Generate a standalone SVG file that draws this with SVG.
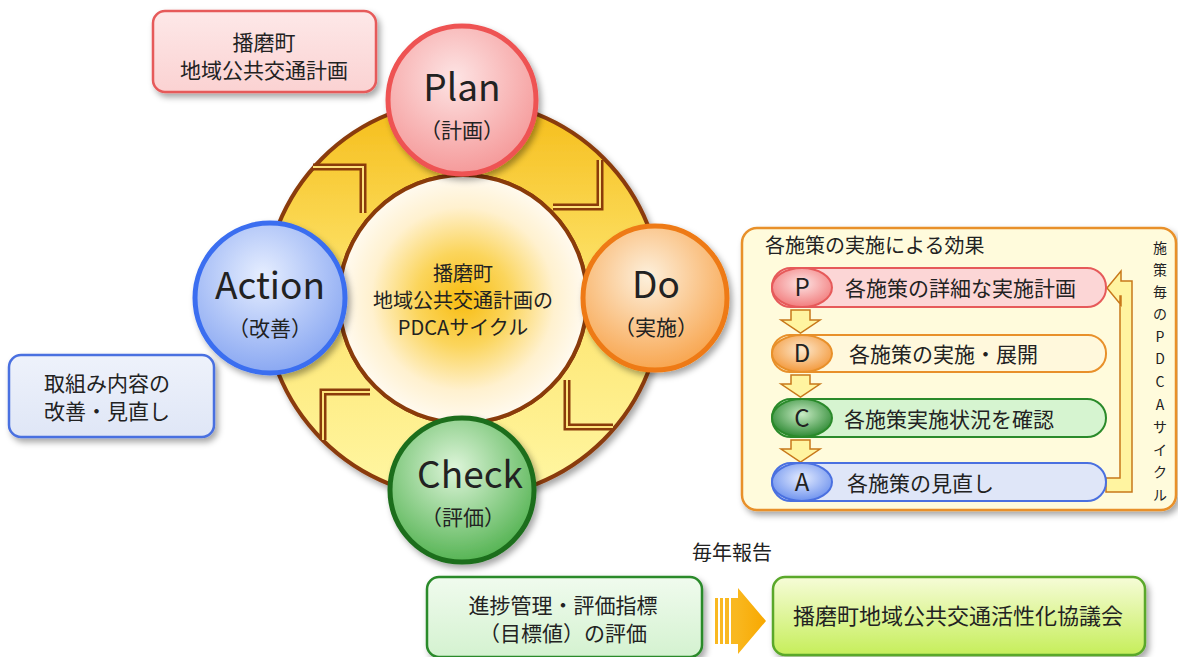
<svg xmlns="http://www.w3.org/2000/svg" width="1178" height="657" viewBox="0 0 1178 657">
<defs>
<style>
text{font-family:"Noto Sans CJK JP","Noto Sans",sans-serif;fill:#222}
.t21{font-size:21px}
.c{text-anchor:middle}
.big{font-size:37px}
.par{font-size:21px}
.sep1{fill:none;stroke:#8a3b0a;stroke-width:7;stroke-linejoin:miter}
.sep2{fill:none;stroke:#fce27a;stroke-width:2}
.vt{font-size:14px;text-anchor:middle}
.darr{fill:#fff4a0;stroke:#c8781a;stroke-width:1.5}
</style>
<filter id="sh" x="-20%" y="-20%" width="150%" height="150%"><feDropShadow dx="3" dy="4" stdDeviation="3" flood-color="#000" flood-opacity="0.35"/></filter>
<linearGradient id="ringG" x1="0" y1="100" x2="0" y2="498" gradientUnits="userSpaceOnUse">
<stop offset="0" stop-color="#f5bc18"/><stop offset="0.45" stop-color="#fde36a"/><stop offset="1" stop-color="#fff7a4"/></linearGradient>
<radialGradient id="innerG" cx="0.5" cy="0.5" r="0.5">
<stop offset="0" stop-color="#f8bc10"/><stop offset="0.38" stop-color="#fbd55c"/><stop offset="0.74" stop-color="#fff1cf"/><stop offset="1" stop-color="#fffaf0"/></radialGradient>
<radialGradient id="pG" cx="0.45" cy="0.35" r="0.65"><stop offset="0" stop-color="#fde4e4"/><stop offset="1" stop-color="#f59a9a"/></radialGradient>
<radialGradient id="dG" cx="0.45" cy="0.35" r="0.65"><stop offset="0" stop-color="#fdf0dc"/><stop offset="1" stop-color="#f8a650"/></radialGradient>
<radialGradient id="cG" cx="0.45" cy="0.35" r="0.65"><stop offset="0" stop-color="#def5da"/><stop offset="1" stop-color="#56b454"/></radialGradient>
<radialGradient id="aG" cx="0.45" cy="0.35" r="0.65"><stop offset="0" stop-color="#e6eeff"/><stop offset="1" stop-color="#8aa8f2"/></radialGradient>
<linearGradient id="pinkBox" x1="0" y1="0" x2="0" y2="1"><stop offset="0" stop-color="#fde8e8"/><stop offset="1" stop-color="#fbd2d2"/></linearGradient>
<linearGradient id="blueBox" x1="0" y1="0" x2="0" y2="1"><stop offset="0" stop-color="#eef2fb"/><stop offset="1" stop-color="#dfe6f6"/></linearGradient>
<linearGradient id="greenBox" x1="0" y1="0" x2="0" y2="1"><stop offset="0" stop-color="#f0fbee"/><stop offset="1" stop-color="#d4f2d0"/></linearGradient>
<linearGradient id="limeBox" x1="0" y1="0" x2="0" y2="1"><stop offset="0" stop-color="#f6fcd8"/><stop offset="1" stop-color="#c6ee5a"/></linearGradient>
<linearGradient id="orArr" x1="0" y1="0" x2="1" y2="0"><stop offset="0" stop-color="#f9b820"/><stop offset="1" stop-color="#f8a800"/></linearGradient>
<radialGradient id="epG" cx="0.5" cy="0.4" r="0.6"><stop offset="0" stop-color="#fde4e4"/><stop offset="1" stop-color="#f27e7e"/></radialGradient>
<radialGradient id="edG" cx="0.5" cy="0.4" r="0.6"><stop offset="0" stop-color="#fde8cc"/><stop offset="1" stop-color="#f39a3e"/></radialGradient>
<radialGradient id="ecG" cx="0.5" cy="0.4" r="0.6"><stop offset="0" stop-color="#c8ebc4"/><stop offset="1" stop-color="#2e8a34"/></radialGradient>
<radialGradient id="eaG" cx="0.5" cy="0.4" r="0.6"><stop offset="0" stop-color="#e4ecff"/><stop offset="1" stop-color="#6f93ee"/></radialGradient>
</defs>

<rect width="1178" height="657" fill="#ffffff"/>

<g id="ring">
<path d="M264,299 a199,199 0 1,0 398,0 a199,199 0 1,0 -398,0 Z M339,299 a124,124 0 1,0 248,0 a124,124 0 1,0 -248,0 Z" fill="url(#ringG)" fill-rule="evenodd" stroke="#8a3b0a" stroke-width="4" filter="url(#sh)"/>
</g>
<g id="connectors">
<polyline class="sep1" points="313,167 363,167 363,213"/>
<polyline class="sep2" points="313,167 363,167 363,213"/>
<polyline class="sep1" points="600,160 600,207 553,207"/>
<polyline class="sep2" points="600,160 600,207 553,207"/>
<polyline class="sep1" points="567,380 567,427 613,427"/>
<polyline class="sep2" points="567,380 567,427 613,427"/>
<polyline class="sep1" points="323,440 323,392 370,392"/>
<polyline class="sep2" points="323,440 323,392 370,392"/>
<g id="report-arrow">
<rect x="715" y="598" width="3" height="46" fill="#f9b820"/>
<rect x="720" y="598" width="3" height="46" fill="#f9b820"/>
<rect x="725" y="598" width="4" height="46" fill="#f9b820"/>
<rect x="731" y="598" width="5" height="46" fill="#f9b820"/>
<path d="M736,598 L738,598 L738,588 L766,621 L738,654 L738,644 L736,644 Z" fill="url(#orArr)"/>
</g>
</g>

<g id="center">
<circle cx="463" cy="299" r="124" fill="url(#innerG)" stroke="#8a3b0a" stroke-width="4"/>
<text class="c" x="463" y="281" style="font-size:20px">播磨町</text>
<text class="c" x="463" y="308" style="font-size:20px">地域公共交通計画の</text>
<text class="c" x="463" y="335" style="font-size:20px">PDCAサイクル</text>
</g>

<g id="plan">
<circle cx="462" cy="100" r="74" fill="url(#pG)" stroke="#ee5252" stroke-width="5" filter="url(#sh)"/>
<text class="c big" x="462" y="101">Plan</text>
<text class="c par" x="462" y="138">（計画）</text>
</g>
<g id="do">
<circle cx="655" cy="298" r="72" fill="url(#dG)" stroke="#ee7a12" stroke-width="5" filter="url(#sh)"/>
<text class="c big" x="656" y="298">Do</text>
<text class="c par" x="656" y="335">（実施）</text>
</g>
<g id="check">
<circle cx="462" cy="490" r="72" fill="url(#cG)" stroke="#1c6e1c" stroke-width="5" filter="url(#sh)"/>
<text class="c big" x="470" y="488">Check</text>
<text class="c par" x="463" y="525">（評価）</text>
</g>
<g id="action">
<circle cx="270" cy="298" r="75" fill="url(#aG)" stroke="#3a6ef0" stroke-width="5" filter="url(#sh)"/>
<text class="c big" x="270" y="299">Action</text>
<text class="c par" x="270" y="336">（改善）</text>
</g>

<g id="plan-doc">
<rect x="153" y="11" width="223" height="81" rx="12" fill="url(#pinkBox)" stroke="#e65a5a" stroke-width="2.5" filter="url(#sh)"/>
<text class="c t21" x="264" y="50">播磨町</text>
<text class="c t21" x="264" y="78">地域公共交通計画</text>
</g>

<g id="improve">
<rect x="9" y="355" width="205" height="82" rx="12" fill="url(#blueBox)" stroke="#4a70e0" stroke-width="2.5" filter="url(#sh)"/>
<text class="t21" x="44" y="391">取組み内容の</text>
<text class="t21" x="44" y="419">改善・見直し</text>
</g>

<g id="effects">
<rect x="742" y="228" width="434" height="282" rx="15" fill="#fffbdc" stroke="#e8902a" stroke-width="2.5" filter="url(#sh)"/>
<text x="765" y="253" style="font-size:20px">各施策の実施による効果</text>
<text class="vt" x="1160"><tspan x="1160" y="253">施</tspan><tspan x="1160" y="275">策</tspan><tspan x="1160" y="297">毎</tspan><tspan x="1160" y="319">の</tspan><tspan x="1160" y="342">P</tspan><tspan x="1160" y="364">D</tspan><tspan x="1160" y="387">C</tspan><tspan x="1160" y="410">A</tspan><tspan x="1160" y="432">サ</tspan><tspan x="1160" y="455">イ</tspan><tspan x="1160" y="477">ク</tspan><tspan x="1160" y="500">ル</tspan></text>
<path d="M1107,288 L1121,271 L1121,281 L1132,281 L1132,492 L1106,492 L1106,478 L1120,478 L1120,296 L1121,296 L1121,305 Z" fill="#fff4a0" stroke="#c8781a" stroke-width="1.5"/>
</g>

<g id="row-p">
<rect x="772" y="268" width="334" height="39" rx="19" fill="#fcd6d6" stroke="#e65a5a" stroke-width="2"/>
<ellipse cx="802" cy="287.5" rx="30" ry="19.5" fill="url(#epG)" stroke="#e65a5a" stroke-width="2"/>
<text class="c" x="802" y="296" style="font-size:24px">P</text>
<text x="845" y="296" style="font-size:21px">各施策の詳細な実施計画</text>
</g>
<path class="darr" d="M791,310 L810,310 L810,320 L820,320 L800.5,333 L781,320 L791,320 Z"/>
<g id="row-d">
<rect x="772" y="335" width="334" height="37" rx="18" fill="#fff8dc" stroke="#e8902a" stroke-width="2"/>
<ellipse cx="802" cy="353.5" rx="30" ry="18.5" fill="url(#edG)" stroke="#e8902a" stroke-width="2"/>
<text class="c" x="802" y="362" style="font-size:24px">D</text>
<text x="849" y="362" style="font-size:21px">各施策の実施・展開</text>
</g>
<path class="darr" d="M791,375 L810,375 L810,384 L820,384 L800.5,397 L781,384 L791,384 Z"/>
<g id="row-c">
<rect x="772" y="399" width="334" height="38" rx="19" fill="#d6f4d0" stroke="#2a8a2a" stroke-width="2"/>
<ellipse cx="802" cy="418" rx="30" ry="19" fill="url(#ecG)" stroke="#2a8a2a" stroke-width="2"/>
<text class="c" x="802" y="427" style="font-size:24px">C</text>
<text x="844" y="427" style="font-size:21px">各施策実施状況を確認</text>
</g>
<path class="darr" d="M791,440 L810,440 L810,449 L820,449 L800.5,462 L781,449 L791,449 Z"/>
<g id="row-a">
<rect x="772" y="463" width="334" height="38" rx="19" fill="#dfe6f8" stroke="#4a70e0" stroke-width="2"/>
<ellipse cx="802" cy="482" rx="30" ry="19" fill="url(#eaG)" stroke="#4a70e0" stroke-width="2"/>
<text class="c" x="802" y="491" style="font-size:24px">A</text>
<text x="847" y="491" style="font-size:21px">各施策の見直し</text>
</g>

<text class="c" x="732" y="560" style="font-size:20px">毎年報告</text>

<g id="eval">
<rect x="427" y="577" width="275" height="80" rx="12" fill="url(#greenBox)" stroke="#2a8a2a" stroke-width="2.5" filter="url(#sh)"/>
<text class="c t21" x="563" y="613">進捗管理・評価指標</text>
<text class="c t21" x="563" y="641">（目標値）の評価</text>
</g>
<g id="council">
<rect x="773" y="577" width="372" height="78" rx="12" fill="url(#limeBox)" stroke="#5aa82a" stroke-width="2.5" filter="url(#sh)"/>
<text class="c" x="958" y="624" style="font-size:22px">播磨町地域公共交通活性化協議会</text>
</g>
</svg>
